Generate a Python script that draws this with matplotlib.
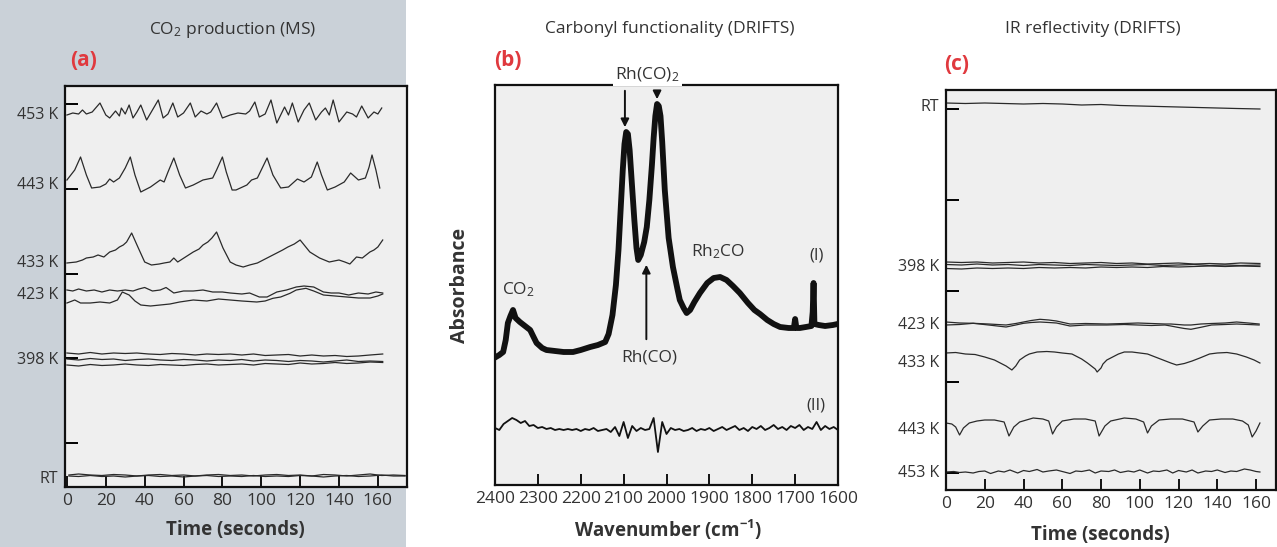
import numpy as np
import matplotlib
matplotlib.use("Agg")
from matplotlib import pyplot as plt
from matplotlib.patches import Rectangle

plt.rcParams['font.family'] = ['Open Sans', 'DejaVu Sans']
plt.rcParams['mathtext.default'] = 'regular'

W, H = 1277, 547
TRACE = '#2a2a2a'

## (a) CO2 production (MS) -- time [s] / signal [a.u.]
a_t_453 = [0, 3, 6, 8, 10, 13, 17, 20, 22, 25, 27, 28, 30, 32, 34, 36, 38, 41, 44, 47, 49.5, 52, 54.5, 57, 60,
           63.5, 66, 69, 72, 74, 77, 80, 84, 88, 92, 94, 96.7, 99, 102, 105, 108, 112, 114, 116, 119, 122, 124.7,
           128, 131, 133, 135, 137, 140, 144, 147, 149, 151.7, 155, 158, 160, 162]
a_453 = [385, 387, 386, 390, 386, 388, 397, 385, 382, 389, 384, 392, 386, 395, 382, 388, 395, 380, 390, 400, 382,
         386, 397, 383, 387, 397, 383, 389, 386, 388, 397, 382, 385, 387, 386, 389, 398, 383, 386, 400, 377, 393,
         385, 397, 378, 390, 397, 380, 388, 392, 385, 400, 378, 388, 386, 383, 394, 382, 388, 386, 392]

a_t_443 = [0, 4, 7, 10, 12.7, 17, 20, 22, 24, 27, 30, 32.6, 35, 38, 43, 48, 50, 52, 55, 58, 61, 65, 70, 75, 77, 80,
           82, 85, 87, 92.6, 95, 98, 100, 103, 106, 110, 114, 118.6, 122, 125.8, 128.8, 131, 134, 138, 142.7, 146,
           150, 153.6, 155.5, 157, 159, 161]
a_443 = [320, 330, 343, 325, 312, 313, 316, 321, 318, 322, 332, 343, 325, 308, 313, 320, 318, 328, 342, 325, 312,
         315, 320, 322, 330, 343, 328, 310, 310, 315, 320, 322, 330, 342, 325, 312, 313, 321, 318, 323, 338, 325,
         310, 313, 318, 327, 320, 322, 333, 345, 330, 312]

a_t_433 = [0, 4.8, 8, 10, 13.5, 16, 19, 22, 25, 27, 29, 30.7, 33.3, 36.5, 40, 43.5, 47.5, 50, 53, 55, 57, 61, 65,
           68, 70, 72.5, 74.6, 77, 80.3, 84, 87, 90.7, 94, 98, 103, 108, 111, 113.7, 117, 120, 125, 130, 135, 140,
           143, 145.6, 149, 152, 155.9, 158, 160, 162.5]
a_433 = [237, 238, 240, 242, 243, 245, 243, 248, 250, 253, 255, 258, 267, 253, 238, 235, 236, 237, 238, 242, 238,
         243, 248, 251, 255, 258, 262, 268, 252, 238, 235, 233, 235, 237, 242, 247, 250, 253, 256, 260, 248, 242,
         238, 240, 238, 236, 243, 242, 248, 250, 253, 260]

a_t_423_hi = [0, 3, 6, 10, 14, 18, 22, 26, 30, 34, 37, 40, 44, 48, 51, 55, 60, 65, 70, 75, 80, 84, 90, 94, 99,
              103, 108, 113, 118, 122, 127, 132, 136, 140, 145, 150, 155, 159, 162.5]
a_423_hi = [210, 209, 211, 209, 210, 208, 210, 209, 210, 209, 211, 212.5, 209, 210, 212.5, 207, 209, 209, 210, 208,
            208, 207, 206, 207, 203, 203, 208, 210, 213, 214, 213, 208, 207, 207, 205, 207, 206, 208, 207]
a_t_423_lo = [0, 4, 7, 12, 17, 22, 26, 28.5, 32, 35, 38, 43, 48, 53, 58, 65, 72, 78, 84, 90, 97.7, 102, 106, 110,
              114.8, 118, 123, 127, 132, 138, 144, 150, 156, 160, 162.5]
a_423_lo = [197, 200, 197, 197, 198, 197, 200, 208, 205, 199, 195, 194, 195, 196, 198, 200, 199, 201, 200, 199,
            198, 199, 201.7, 203, 206.7, 210, 211.7, 209, 205, 204, 203, 202, 202, 204, 206]

a_t_398 = [0, 6, 12, 18, 24, 30, 36, 42, 48, 54, 60, 66, 72, 78, 84, 90, 96, 102, 108, 114, 120, 126, 132, 138,
           144, 150, 156, 162.5]
a_398_1 = [147, 146, 147.5, 146, 147, 146.5, 147, 146, 145.5, 146.5, 146, 145, 146, 145.5, 146, 145, 146, 144.5,
           145, 145.5, 144, 145, 144, 144.5, 143.5, 144, 145, 146]
a_398_2 = [141, 140, 141.5, 140.5, 141, 139.5, 140.5, 141, 140, 139.5, 140.5, 140, 139, 140, 139.5, 140.5, 139,
           140, 139.5, 138.5, 139.5, 139, 138, 139, 140, 138.5, 139, 138.5]
a_398_3 = [135, 134, 135.5, 134.5, 135, 136, 135, 134.5, 135.5, 135, 134.5, 135.5, 136, 135, 135.5, 136, 135,
           136.5, 136, 135.5, 137, 136, 136.5, 137.5, 136.5, 137, 138, 137.5]

a_t_rt = [1, 6, 12, 18, 24, 30, 36, 42, 48, 54, 60, 66, 72, 78, 84, 90, 96, 102, 108, 114, 120, 126, 132, 138,
          144, 150, 156, 162, 168, 174]
a_rt_1 = [25, 26, 25, 24.5, 25.5, 25, 24, 25, 25.5, 24.5, 25, 24, 25, 25.5, 24.5, 25, 24, 25, 25.5, 24.5, 25, 24,
          25.5, 25, 24, 25, 26, 24.5, 25, 24.5]
a_rt_2 = [24, 23.5, 24.5, 23.5, 24, 23, 24, 24.5, 23.5, 24, 23, 24, 24.5, 23.5, 24, 23.5, 24.5, 23.5, 24, 23.5,
          24.5, 24, 23, 24, 24.5, 23.5, 24, 25, 24, 24]

a_labels = ["453 K", "443 K", "433 K", "423 K", "398 K", "RT"]
a_label_y = [387, 317, 239, 207, 142, 23]
a_ticks_y = [396, 311, 226, 142, 57]

## (b) Carbonyl functionality (DRIFTS) -- wavenumber [cm-1] / absorbance [a.u.]
b_wn_1 = [2398, 2390, 2381, 2375, 2370, 2364, 2358, 2352, 2342, 2330, 2318, 2310, 2303, 2290, 2280, 2260, 2240,
          2218, 2200, 2178, 2160, 2143, 2135, 2126, 2118, 2112, 2107, 2102, 2098, 2094, 2090, 2086, 2081, 2075,
          2070, 2066, 2060, 2052, 2046, 2040, 2034, 2030, 2026, 2022, 2018, 2014, 2010, 2004, 1995, 1985, 1975,
          1969, 1960, 1953, 1945, 1935, 1922, 1905, 1890, 1875, 1860, 1845, 1829, 1810, 1795, 1782, 1765, 1750,
          1735, 1715, 1703, 1700, 1697, 1689, 1675, 1662, 1659, 1657, 1655, 1645, 1630, 1612, 1601]
b_abs_1 = [143, 145, 148, 160, 177, 184, 190, 182, 178, 174, 170, 163, 157, 152, 150, 149, 148, 148, 150, 153,
           155, 158, 166, 185, 215, 250, 290, 330, 356, 368, 366, 350, 318, 280, 252, 240, 245, 258, 273, 300,
           335, 362, 384, 396, 394, 384, 358, 310, 262, 233, 212, 200, 192, 187, 190, 198, 207, 217, 222, 223,
           220, 214, 207, 197, 190, 186, 180, 176, 173, 172, 172, 181, 172, 172, 173, 174, 188, 217, 176, 175,
           174, 175, 176]

b_abs_2 = [72, 70, 76, 79, 82, 80, 77, 79, 74, 75, 72, 73, 71, 72, 70, 71, 70, 71, 70, 71, 69, 71, 70, 72, 69,
           70, 71, 68, 73, 64, 78, 62, 74, 69, 72, 70, 71, 82, 48, 78, 66, 72, 70, 71, 69, 70, 72, 69, 71, 70, 72,
           69, 71, 73, 70, 72, 74, 70, 72, 69, 73, 71, 74, 70, 72, 75, 71, 73, 70, 74, 72, 75, 70, 73, 71, 78, 70,
           74, 71, 73, 70]
b_wn_2 = np.linspace(2400, 1600, len(b_abs_2))

## (c) IR reflectivity (DRIFTS) -- time [s] / reflectivity [a.u.]
c_t_rt = [0, 10, 20, 30, 40, 50, 60, 70, 80, 90, 100, 110, 120, 130, 140, 150, 162]
c_rt = [397, 396.5, 397, 396.5, 396, 396.5, 396, 395, 395.5, 394.5, 394, 393.5, 393, 392.5, 392, 391.5, 391]

c_t_398 = [0, 8, 16, 24, 32, 40, 48, 56, 64, 72, 80, 88, 96, 104, 112, 120, 128, 136, 144, 152, 162]
c_398_1 = [238, 237.5, 238, 237, 237.5, 238, 237, 237.5, 236.5, 237, 237.5, 236.5, 237, 236, 236.5, 237, 236,
           236.5, 236, 237, 236.5]
c_398_2 = [235.5, 235, 236, 235, 235.5, 234.5, 235.5, 235, 234.5, 235.5, 235, 234.5, 235, 235.5, 234.5, 235,
           235.5, 234.5, 235, 234.5, 235]
c_398_3 = [231.5, 231, 232, 231.5, 232, 231.5, 232.5, 232, 232.5, 232, 233, 232.5, 233, 232.5, 233.5, 233, 233.5,
           234, 233.5, 234, 233.5]

c_t_423 = [0, 7, 14, 22, 31, 36, 40, 44, 48.5, 53, 57, 64, 72, 83, 92, 99, 106, 113, 116, 119.5, 123, 126.4,
           131.5, 137, 144, 150, 156, 161.6]
c_423_hi = [178, 177, 176.7, 176, 175, 176.5, 178, 179.5, 180.7, 180, 179, 176, 176.5, 176, 176.5, 177, 176.5,
            176, 176, 175.5, 175, 175, 176, 176.5, 177, 178, 177, 176]
c_423_lo = [175, 175.5, 176.7, 175, 173, 175, 176.7, 177.5, 178, 177.5, 177, 174, 175, 175, 175.5, 175, 174.5,
            175, 174, 172.7, 171.5, 170.7, 172.7, 175, 175.5, 176, 175.5, 175]

c_t_433 = [0, 5, 10, 15, 20, 25, 28, 31, 34, 36, 38, 41, 43, 47, 52, 56, 60, 65, 70, 73, 75, 77, 78, 80, 81, 83,
           86, 89, 92, 96, 100, 104, 108, 112, 116, 119, 123, 127, 131, 136, 140, 145, 150, 155, 159, 162]
c_433 = [147, 147.5, 146, 145.5, 143, 140, 137, 134, 130, 134, 140, 144, 146, 148, 148.5, 148, 147, 146, 141, 137,
         134, 131, 128, 132, 136, 140, 143, 146, 148, 148, 147, 146, 143, 140, 137, 135, 136.5, 139, 142, 146, 147,
         147.5, 146, 143, 140, 137]

c_t_443 = [0, 3, 5, 7, 9, 12, 16, 20, 25, 30, 32.5, 35, 38, 45, 50, 53, 55, 57, 60, 66, 72, 77, 79, 82, 85, 92,
           98, 102, 104, 106, 110, 116, 122, 128, 130, 132.5, 136, 142, 148, 153, 156, 158, 160, 162]
c_443 = [77, 76, 73, 65, 72, 77, 79, 80, 80, 78, 64, 73, 78, 82, 81, 79, 66, 73, 79, 81, 81, 79, 64, 74, 79, 82,
         81, 78, 67, 74, 80, 81, 81, 78, 68, 74, 80, 81, 81, 79, 75, 63, 69, 77]

c_t_453 = [0, 4, 7, 10, 14, 17, 20, 23, 27, 30, 33, 37, 40, 43, 47, 50, 53, 57, 60, 64, 67, 70, 74, 77, 80, 84, 87,
           90, 94, 97, 100, 104, 107, 110, 114, 117, 120, 124, 127, 130, 134, 137, 140, 144, 147, 150, 154, 157,
           160, 162]
c_453 = [28, 28.5, 27.5, 28, 27, 28.5, 29, 26.5, 29, 28, 30, 27, 29.5, 28.5, 30.5, 28, 29, 30, 28.5, 26.5, 29,
         28.5, 30, 27, 29, 28.5, 30, 27.5, 29, 28, 30, 27, 29, 28.5, 30, 27, 29.5, 28, 30, 27, 29, 28.5, 30, 27.5,
         29, 28.5, 31, 30, 28.5, 28]

c_labels = ["RT", "398 K", "423 K", "433 K", "443 K", "453 K"]
c_label_y = [395, 235, 177, 139, 72, 29]
c_ticks_y = [391, 300, 209, 118, 27]

time_ticks = [0, 20, 40, 60, 80, 100, 120, 140, 160]
wn_ticks = [2400, 2300, 2200, 2100, 2000, 1900, 1800, 1700, 1600]


fig = plt.figure(figsize=(W / 100, H / 100), dpi=100)
fig.patch.set_facecolor('white')
fig.patches.append(Rectangle((0, 0), 406 / W, 1, transform=fig.transFigure,
                             facecolor='#cad1d8', edgecolor='none', zorder=-10))


def px_axes(left, top, right, bottom):
    return fig.add_axes([left / W, 1 - bottom / H, (right - left) / W, (bottom - top) / H])


def ftext(x, y, s, **kw):
    fig.text(x / W, 1 - y / H, s, ha='center', va='center', **kw)


def frame(ax):
    ax.set_facecolor('#efefef')
    for sp in ax.spines.values():
        sp.set_linewidth(1.6)
        sp.set_color('#111111')
    ax.tick_params(axis='x', which='major', direction='in', length=8, width=1.4,
                   labelsize=12.5, pad=4, colors='#111111', labelcolor='#333333')


def temp_axis(ax, ticks, labels, label_y):
    ## labels sit on the traces, plain ticks are evenly spaced: keep both sets
    ax.yaxis.remove_overlapping_locs = False
    ax.set_yticks(ticks)
    ax.set_yticklabels([])
    ax.tick_params(axis='y', which='major', direction='in', length=9, width=1.4)
    ax.set_yticks(label_y, labels, minor=True)
    ax.tick_params(axis='y', which='minor', length=0, pad=5, labelsize=11.5, labelcolor='#333333')


## (a)
ax = px_axes(65, 86, 407, 487)
frame(ax)
ax.plot(a_t_453, a_453, color=TRACE, lw=0.9)
ax.plot(a_t_443, a_443, color=TRACE, lw=0.9)
ax.plot(a_t_433, a_433, color=TRACE, lw=0.9)
ax.plot(a_t_423_hi, a_423_hi, color=TRACE, lw=0.9)
ax.plot(a_t_423_lo, a_423_lo, color=TRACE, lw=0.9)
for series in (a_398_1, a_398_2, a_398_3):
    ax.plot(a_t_398, series, color=TRACE, lw=0.9)
ax.plot(a_t_rt, a_rt_1, color=TRACE, lw=0.9)
ax.plot(a_t_rt, a_rt_2, color=TRACE, lw=0.9)
ax.set_xlim(-1, 175)
ax.set_ylim(13, 414)
ax.set_xticks(time_ticks)
temp_axis(ax, a_ticks_y, a_labels, a_label_y)

## (b)
ax = px_axes(495, 85, 838, 485)
frame(ax)
ax.plot(b_wn_1, b_abs_1, color='#111111', lw=4.2, solid_joinstyle='round')
ax.plot(b_wn_2, b_abs_2, color='#111111', lw=1.3)
ax.set_xlim(2400, 1600)
ax.set_ylim(15, 415)
ax.set_xticks(wn_ticks)
ax.set_yticks([])
ax.set_ylabel("Absorbance", fontsize=14, fontweight='bold', color='#333333', labelpad=18)
ax.annotate("", xy=(2097, 370), xytext=(2097, 412), clip_on=False,
            arrowprops=dict(arrowstyle='-|>', color='#111111', lw=1.4, mutation_scale=12))
ax.annotate("", xy=(2022, 398), xytext=(2022, 410), clip_on=False,
            arrowprops=dict(arrowstyle='-|>', color='#111111', lw=1.4, mutation_scale=12))
ax.annotate("", xy=(2047, 238), xytext=(2047, 158),
            arrowprops=dict(arrowstyle='-|>', color='#111111', lw=1.4, mutation_scale=12))
ax.text(2045, 425, "Rh(CO)$_2$", fontsize=12.5, ha='center', va='center', color='#333333',
        bbox=dict(facecolor='white', edgecolor='none', pad=1.5), clip_on=False, zorder=10)
ax.text(2040, 142, "Rh(CO)", fontsize=12.5, ha='center', va='center', color='#333333')
ax.text(2345, 210, "CO$_2$", fontsize=12.5, ha='center', va='center', color='#333333')
ax.text(1880, 248, "Rh$_2$CO", fontsize=12.5, ha='center', va='center', color='#333333')
ax.text(1650, 244, "(I)", fontsize=12, ha='center', va='center', color='#333333')
ax.text(1651, 94, "(II)", fontsize=12, ha='center', va='center', color='#333333')

## (c)
ax = px_axes(946, 90, 1276, 490)
frame(ax)
ax.plot(c_t_rt, c_rt, color=TRACE, lw=0.9)
for series in (c_398_1, c_398_2, c_398_3):
    ax.plot(c_t_398, series, color=TRACE, lw=0.9)
ax.plot(c_t_423, c_423_hi, color=TRACE, lw=0.9)
ax.plot(c_t_423, c_423_lo, color=TRACE, lw=0.9)
ax.plot(c_t_433, c_433, color=TRACE, lw=0.9)
ax.plot(c_t_443, c_443, color=TRACE, lw=0.9)
ax.plot(c_t_453, c_453, color=TRACE, lw=0.9)
ax.set_xlim(0, 170.3)
ax.set_ylim(10, 410)
ax.set_xticks(time_ticks)
temp_axis(ax, c_ticks_y, c_labels, c_label_y)

## titles, panel letters, axis titles
ftext(233, 30, "CO$_2$ production (MS)", fontsize=12.5, color='#333333')
ftext(670, 29, "Carbonyl functionality (DRIFTS)", fontsize=12.5, color='#333333')
ftext(1093, 29, "IR reflectivity (DRIFTS)", fontsize=12.5, color='#333333')
ftext(84, 61, "(a)", fontsize=15, fontweight='bold', color='#e0393e')
ftext(508, 61, "(b)", fontsize=15, fontweight='bold', color='#e0393e')
ftext(957, 64, "(c)", fontsize=15, fontweight='bold', color='#e0393e')
ftext(235, 530, "Time (seconds)", fontsize=13.5, fontweight='bold', color='#333333')
ftext(668, 530, "Wavenumber (cm$^{-1}$)", fontsize=13.5, fontweight='bold', color='#333333')
ftext(1100, 535, "Time (seconds)", fontsize=13.5, fontweight='bold', color='#333333')

fig.savefig("out.png", dpi=100, facecolor=fig.get_facecolor())
